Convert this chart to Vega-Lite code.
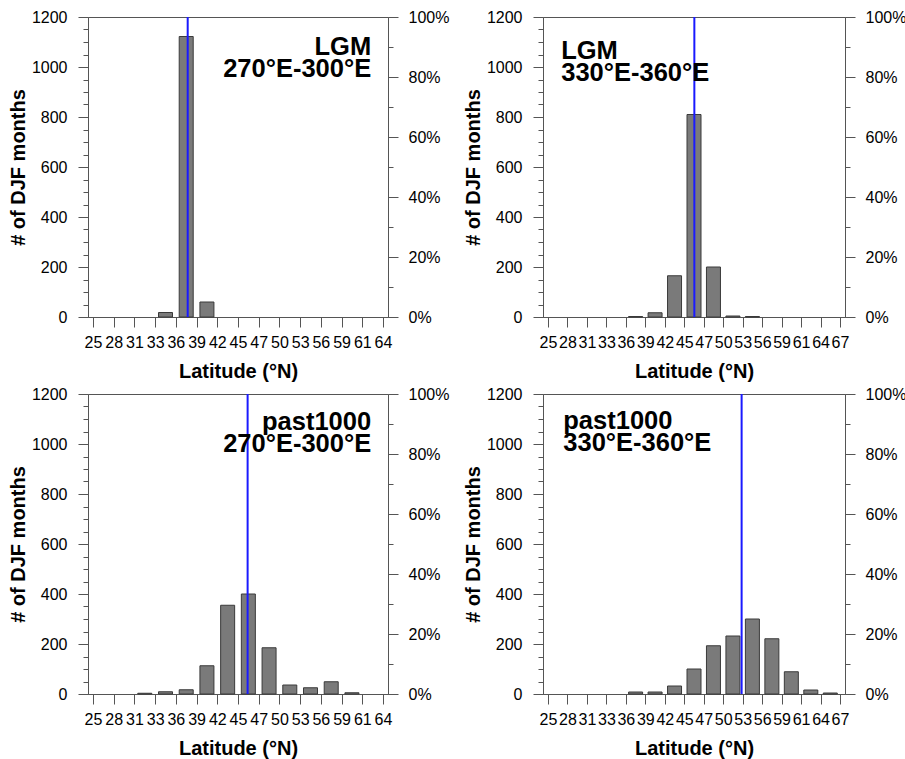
{
  "$schema": "https://vega.github.io/schema/vega-lite/v6.json",
  "padding": {"left": 7, "top": 8, "right": 0, "bottom": 0},
  "background": "white",
  "datasets": {
    "bars": [
      {"panel": "A", "lat": 34.8, "count": 18},
      {"panel": "A", "lat": 37.6, "count": 1122},
      {"panel": "A", "lat": 40.4, "count": 60},
      {"panel": "B", "lat": 37.6, "count": 2},
      {"panel": "B", "lat": 40.4, "count": 17},
      {"panel": "B", "lat": 43.2, "count": 165},
      {"panel": "B", "lat": 46.0, "count": 810},
      {"panel": "B", "lat": 48.8, "count": 200},
      {"panel": "B", "lat": 51.6, "count": 4},
      {"panel": "B", "lat": 54.4, "count": 2},
      {"panel": "C", "lat": 32.0, "count": 3},
      {"panel": "C", "lat": 34.8, "count": 9},
      {"panel": "C", "lat": 37.6, "count": 17},
      {"panel": "C", "lat": 40.4, "count": 113},
      {"panel": "C", "lat": 43.2, "count": 355},
      {"panel": "C", "lat": 46.0, "count": 400},
      {"panel": "C", "lat": 48.8, "count": 185},
      {"panel": "C", "lat": 51.6, "count": 36},
      {"panel": "C", "lat": 54.4, "count": 25},
      {"panel": "C", "lat": 57.2, "count": 49},
      {"panel": "C", "lat": 60.0, "count": 5},
      {"panel": "D", "lat": 37.6, "count": 8},
      {"panel": "D", "lat": 40.4, "count": 8},
      {"panel": "D", "lat": 43.2, "count": 32},
      {"panel": "D", "lat": 46.0, "count": 100},
      {"panel": "D", "lat": 48.8, "count": 193},
      {"panel": "D", "lat": 51.6, "count": 232},
      {"panel": "D", "lat": 54.4, "count": 300},
      {"panel": "D", "lat": 57.2, "count": 221},
      {"panel": "D", "lat": 60.0, "count": 89},
      {"panel": "D", "lat": 62.8, "count": 16},
      {"panel": "D", "lat": 65.6, "count": 4}
    ],
    "lines": [
      {"panel": "A", "lat": 37.8},
      {"panel": "B", "lat": 46.05},
      {"panel": "C", "lat": 45.9},
      {"panel": "D", "lat": 52.85}
    ],
    "labels": [
      {"panel": "A", "label": "LGM\n270°E-300°E"},
      {"panel": "B", "label": "LGM\n330°E-360°E"},
      {"panel": "C", "label": "past1000\n270°E-300°E"},
      {"panel": "D", "label": "past1000\n330°E-360°E"}
    ]
  },
  "config": {
    "font": "Liberation Sans",
    "view": {"stroke": "#555555", "strokeWidth": 1},
    "axis": {
      "grid": false,
      "domainColor": "#555555",
      "tickColor": "#555555",
      "labelColor": "#000000",
      "titleColor": "#000000",
      "labelFont": "Liberation Sans",
      "titleFont": "Liberation Sans",
      "labelFontSize": 16,
      "titleFontSize": 20,
      "titleFontWeight": "bold",
      "labelFlush": false,
      "labelOverlap": false,
      "labelBound": false
    }
  },
  "vconcat": [
    {
      "spacing": 12,
      "hconcat": [
        {
          "width": 300, "height": 300,
          "layer": [
            {
              "data": {"name": "bars"},
              "transform": [{"filter": "datum.panel === 'A'"}],
              "mark": {"type": "bar", "width": 14, "fill": "#7a7a7a", "stroke": "#3a3a3a", "strokeWidth": 1},
              "encoding": {
                "x": {"field": "lat", "type": "quantitative", "scale": {"domain": [25, 64.2], "nice": false, "zero": false},
                  "axis": {"title": "Latitude (°N)", "tickCount": 40, "values": [25, 27.8, 30.6, 33.4, 36.2, 39, 41.8, 44.6, 47.4, 50.2, 53, 55.8, 58.6, 61.4, 64.2], "format": ".0f", "labelOverlap": false, "tickSize": 10, "labelPadding": 7, "titlePadding": 11}},
                "y": {"field": "count", "type": "quantitative", "scale": {"domain": [0, 1200], "nice": false},
                  "axis": {"orient": "left", "title": "# of DJF months", "tickCount": 40, "format": "d", "labelOverlap": false, "values": [0,50,100,150,200,250,300,350,400,450,500,550,600,650,700,750,800,850,900,950,1000,1050,1100,1150,1200], "labelExpr": "datum.value % 200 === 0 ? datum.label : ''", "tickSize": {"condition": {"test": "datum.value % 200 === 0", "value": 10}, "value": 5}, "labelPadding": 11, "titlePadding": 3}}
              }
            },
            {
              "data": {"name": "lines"},
              "transform": [{"filter": "datum.panel === 'A'"}],
              "mark": {"type": "rule", "color": "#1a1aff", "strokeWidth": 2},
              "encoding": {
                "x": {"field": "lat", "type": "quantitative"},
                "y": {"datum": 0, "type": "quantitative", "scale": {"domain": [0, 1], "nice": false},
                  "axis": {"orient": "right", "title": null, "tickCount": 40, "format": ".0%", "labelOverlap": false, "values": [0,0.1,0.2,0.3,0.4,0.5,0.6,0.7,0.8,0.9,1], "labelExpr": "round(datum.value*10) % 2 === 0 ? datum.label : ''", "tickSize": {"condition": {"test": "round(datum.value*10) % 2 === 0", "value": 10}, "value": 5}, "labelPadding": 10}},
                "y2": {"datum": 1}
              }
            },
            {
              "data": {"name": "labels"},
              "transform": [{"filter": "datum.panel === 'A'"}],
              "mark": {"type": "text", "align": "right", "baseline": "alphabetic", "fontSize": 25.5, "fontWeight": "bold", "lineBreak": "\n", "lineHeight": 22, "color": "#000000"},
              "encoding": {
                "x": {"datum": 62.6, "type": "quantitative"},
                "y": {"datum": 1048, "type": "quantitative", "scale": {"domain": [0, 1200], "nice": false}, "axis": null},
                "text": {"field": "label", "type": "nominal"}
              }
            }
          ],
          "resolve": {"scale": {"y": "independent"}, "axis": {"y": "independent"}}
        },
        {
          "width": 302, "height": 300,
          "layer": [
            {
              "data": {"name": "bars"},
              "transform": [{"filter": "datum.panel === 'B'"}],
              "mark": {"type": "bar", "width": 14, "fill": "#7a7a7a", "stroke": "#3a3a3a", "strokeWidth": 1},
              "encoding": {
                "x": {"field": "lat", "type": "quantitative", "scale": {"domain": [25, 67], "nice": false, "zero": false},
                  "axis": {"title": "Latitude (°N)", "tickCount": 40, "values": [25, 27.8, 30.6, 33.4, 36.2, 39, 41.8, 44.6, 47.4, 50.2, 53, 55.8, 58.6, 61.4, 64.2, 67], "format": ".0f", "labelOverlap": false, "tickSize": 10, "labelPadding": 7, "titlePadding": 11}},
                "y": {"field": "count", "type": "quantitative", "scale": {"domain": [0, 1200], "nice": false},
                  "axis": {"orient": "left", "title": "# of DJF months", "tickCount": 40, "format": "d", "labelOverlap": false, "values": [0,50,100,150,200,250,300,350,400,450,500,550,600,650,700,750,800,850,900,950,1000,1050,1100,1150,1200], "labelExpr": "datum.value % 200 === 0 ? datum.label : ''", "tickSize": {"condition": {"test": "datum.value % 200 === 0", "value": 10}, "value": 5}, "labelPadding": 11, "titlePadding": 3}}
              }
            },
            {
              "data": {"name": "lines"},
              "transform": [{"filter": "datum.panel === 'B'"}],
              "mark": {"type": "rule", "color": "#1a1aff", "strokeWidth": 2},
              "encoding": {
                "x": {"field": "lat", "type": "quantitative"},
                "y": {"datum": 0, "type": "quantitative", "scale": {"domain": [0, 1], "nice": false},
                  "axis": {"orient": "right", "title": null, "tickCount": 40, "format": ".0%", "labelOverlap": false, "values": [0,0.1,0.2,0.3,0.4,0.5,0.6,0.7,0.8,0.9,1], "labelExpr": "round(datum.value*10) % 2 === 0 ? datum.label : ''", "tickSize": {"condition": {"test": "round(datum.value*10) % 2 === 0", "value": 10}, "value": 5}, "labelPadding": 10}},
                "y2": {"datum": 1}
              }
            },
            {
              "data": {"name": "labels"},
              "transform": [{"filter": "datum.panel === 'B'"}],
              "mark": {"type": "text", "align": "left", "baseline": "alphabetic", "fontSize": 25.5, "fontWeight": "bold", "lineBreak": "\n", "lineHeight": 22, "color": "#000000"},
              "encoding": {
                "x": {"datum": 26.9, "type": "quantitative"},
                "y": {"datum": 1032, "type": "quantitative", "scale": {"domain": [0, 1200], "nice": false}, "axis": null},
                "text": {"field": "label", "type": "nominal"}
              }
            }
          ],
          "resolve": {"scale": {"y": "independent"}, "axis": {"y": "independent"}}
        }
      ]
    },
    {
      "spacing": 12,
      "hconcat": [
        {
          "width": 300, "height": 300,
          "layer": [
            {
              "data": {"name": "bars"},
              "transform": [{"filter": "datum.panel === 'C'"}],
              "mark": {"type": "bar", "width": 14, "fill": "#7a7a7a", "stroke": "#3a3a3a", "strokeWidth": 1},
              "encoding": {
                "x": {"field": "lat", "type": "quantitative", "scale": {"domain": [25, 64.2], "nice": false, "zero": false},
                  "axis": {"title": "Latitude (°N)", "tickCount": 40, "values": [25, 27.8, 30.6, 33.4, 36.2, 39, 41.8, 44.6, 47.4, 50.2, 53, 55.8, 58.6, 61.4, 64.2], "format": ".0f", "labelOverlap": false, "tickSize": 10, "labelPadding": 7, "titlePadding": 11}},
                "y": {"field": "count", "type": "quantitative", "scale": {"domain": [0, 1200], "nice": false},
                  "axis": {"orient": "left", "title": "# of DJF months", "tickCount": 40, "format": "d", "labelOverlap": false, "values": [0,50,100,150,200,250,300,350,400,450,500,550,600,650,700,750,800,850,900,950,1000,1050,1100,1150,1200], "labelExpr": "datum.value % 200 === 0 ? datum.label : ''", "tickSize": {"condition": {"test": "datum.value % 200 === 0", "value": 10}, "value": 5}, "labelPadding": 11, "titlePadding": 3}}
              }
            },
            {
              "data": {"name": "lines"},
              "transform": [{"filter": "datum.panel === 'C'"}],
              "mark": {"type": "rule", "color": "#1a1aff", "strokeWidth": 2},
              "encoding": {
                "x": {"field": "lat", "type": "quantitative"},
                "y": {"datum": 0, "type": "quantitative", "scale": {"domain": [0, 1], "nice": false},
                  "axis": {"orient": "right", "title": null, "tickCount": 40, "format": ".0%", "labelOverlap": false, "values": [0,0.1,0.2,0.3,0.4,0.5,0.6,0.7,0.8,0.9,1], "labelExpr": "round(datum.value*10) % 2 === 0 ? datum.label : ''", "tickSize": {"condition": {"test": "round(datum.value*10) % 2 === 0", "value": 10}, "value": 5}, "labelPadding": 10}},
                "y2": {"datum": 1}
              }
            },
            {
              "data": {"name": "labels"},
              "transform": [{"filter": "datum.panel === 'C'"}],
              "mark": {"type": "text", "align": "right", "baseline": "alphabetic", "fontSize": 25.5, "fontWeight": "bold", "lineBreak": "\n", "lineHeight": 22, "color": "#000000"},
              "encoding": {
                "x": {"datum": 62.6, "type": "quantitative"},
                "y": {"datum": 1056, "type": "quantitative", "scale": {"domain": [0, 1200], "nice": false}, "axis": null},
                "text": {"field": "label", "type": "nominal"}
              }
            }
          ],
          "resolve": {"scale": {"y": "independent"}, "axis": {"y": "independent"}}
        },
        {
          "width": 302, "height": 300,
          "layer": [
            {
              "data": {"name": "bars"},
              "transform": [{"filter": "datum.panel === 'D'"}],
              "mark": {"type": "bar", "width": 14, "fill": "#7a7a7a", "stroke": "#3a3a3a", "strokeWidth": 1},
              "encoding": {
                "x": {"field": "lat", "type": "quantitative", "scale": {"domain": [25, 67], "nice": false, "zero": false},
                  "axis": {"title": "Latitude (°N)", "tickCount": 40, "values": [25, 27.8, 30.6, 33.4, 36.2, 39, 41.8, 44.6, 47.4, 50.2, 53, 55.8, 58.6, 61.4, 64.2, 67], "format": ".0f", "labelOverlap": false, "tickSize": 10, "labelPadding": 7, "titlePadding": 11}},
                "y": {"field": "count", "type": "quantitative", "scale": {"domain": [0, 1200], "nice": false},
                  "axis": {"orient": "left", "title": "# of DJF months", "tickCount": 40, "format": "d", "labelOverlap": false, "values": [0,50,100,150,200,250,300,350,400,450,500,550,600,650,700,750,800,850,900,950,1000,1050,1100,1150,1200], "labelExpr": "datum.value % 200 === 0 ? datum.label : ''", "tickSize": {"condition": {"test": "datum.value % 200 === 0", "value": 10}, "value": 5}, "labelPadding": 11, "titlePadding": 3}}
              }
            },
            {
              "data": {"name": "lines"},
              "transform": [{"filter": "datum.panel === 'D'"}],
              "mark": {"type": "rule", "color": "#1a1aff", "strokeWidth": 2},
              "encoding": {
                "x": {"field": "lat", "type": "quantitative"},
                "y": {"datum": 0, "type": "quantitative", "scale": {"domain": [0, 1], "nice": false},
                  "axis": {"orient": "right", "title": null, "tickCount": 40, "format": ".0%", "labelOverlap": false, "values": [0,0.1,0.2,0.3,0.4,0.5,0.6,0.7,0.8,0.9,1], "labelExpr": "round(datum.value*10) % 2 === 0 ? datum.label : ''", "tickSize": {"condition": {"test": "round(datum.value*10) % 2 === 0", "value": 10}, "value": 5}, "labelPadding": 10}},
                "y2": {"datum": 1}
              }
            },
            {
              "data": {"name": "labels"},
              "transform": [{"filter": "datum.panel === 'D'"}],
              "mark": {"type": "text", "align": "left", "baseline": "alphabetic", "fontSize": 25.5, "fontWeight": "bold", "lineBreak": "\n", "lineHeight": 22, "color": "#000000"},
              "encoding": {
                "x": {"datum": 27.2, "type": "quantitative"},
                "y": {"datum": 1060, "type": "quantitative", "scale": {"domain": [0, 1200], "nice": false}, "axis": null},
                "text": {"field": "label", "type": "nominal"}
              }
            }
          ],
          "resolve": {"scale": {"y": "independent"}, "axis": {"y": "independent"}}
        }
      ]
    }
  ],
  "spacing": 3
}
